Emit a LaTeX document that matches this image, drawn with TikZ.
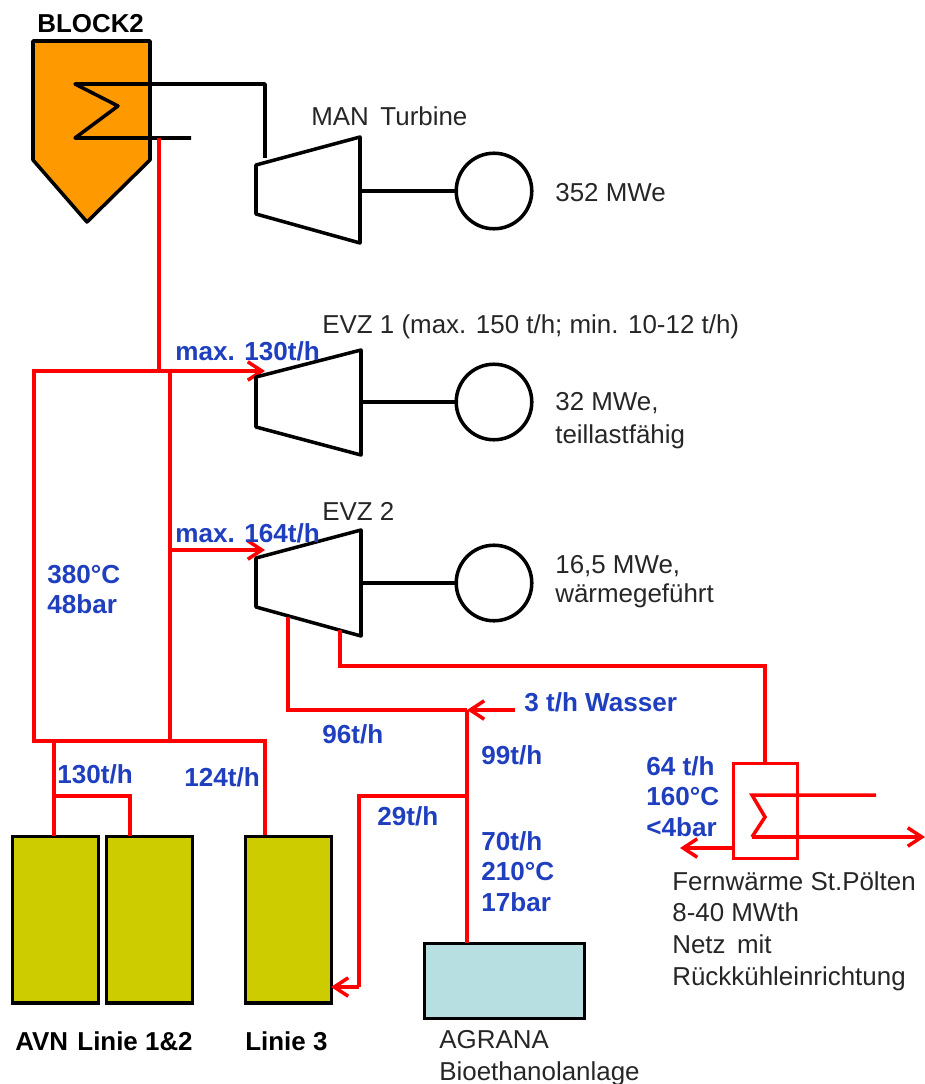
\documentclass[tikz,border=0pt]{standalone}
\usepackage{fontspec}
\setmainfont{Liberation Sans}
\usetikzlibrary{arrows.meta}
\definecolor{lblue}{HTML}{1F3FBF}
\definecolor{steam}{HTML}{FF0000}
\definecolor{boiler}{HTML}{FF9900}
\definecolor{olive}{HTML}{CCCC00}
\definecolor{pale}{HTML}{B7DEE0}
\tikzset{
  blk/.style={draw=black,line width=2pt,line join=round},
  stm/.style={draw=steam,line width=2pt,line join=miter},
  arr/.style={stm,-{Straight Barb[length=8pt,width=10.5pt,line width=2pt]}},
  gen/.style={circle,draw=black,line width=2pt,minimum size=43pt,inner sep=0pt,outer sep=0pt,fill=white},
  plantbox/.style={rectangle,draw=black,line width=2pt,inner sep=0pt,outer sep=0pt,anchor=north west},
  lbl/.style={font=\fontsize{14.75pt}{18pt}\selectfont,anchor=west,inner sep=0pt,align=left,text=black!85},
  bold/.style={lbl,font=\fontsize{14.75pt}{18pt}\selectfont\bfseries,text=black},
  val/.style={lbl,font=\fontsize{14.85pt}{17.4pt}\selectfont\bfseries,text=lblue},
}
\begin{document}
\begin{tikzpicture}[x=0.02cm,y=-0.02cm]
\useasboundingbox (0,0) rectangle (925,1084);
% coordinates
\foreach \n/\x/\y in {
 b1/33/41,b2/150/41,b3/150/160,b4/87/222,b5/33/160,
 c0/265/158,c1/265/84,c2/75/84,c3/118/106,c4/75/138,c5/191/138,
 r0/159/138,r1/159/371,
 hl/34/371,hm/170/371,hb/34/741,hc/170/741,hr/265/741,
 t1a/256/165,t1b/360/137,t1c/360/243,t1d/256/214,t1m/360/191,
 t2a/256/377,t2b/361/350,t2c/361/455,t2d/256/427,t2m/361/402,t2i/265/371,
 t3a/256/558,t3b/361/530,t3c/361/636,t3d/256/607,t3m/361/583,t3i/265/550,t3s/170/550,
 o1/288/617,o1b/288/710,j1/467/710,w0/515/710,
 o2/340/630,o2b/340/666,o2c/765/666,
 l1/54/741,l1m/54/796,l2m/130/796,
 j2/467/796,j3/359/796,j4/359/987,
 hxt/765/763,k0/876/795,k1/752/795,k2/765/817,k3/752/837,k4/925/837,
 e0/733/848,e1/680/848}
 \coordinate (\n) at (\x,\y);

% boiler
\draw[blk,fill=boiler] (b1)--(b2)--(b3)--(b4)--(b5)--cycle;
\draw[blk] (c0)--(c1)--(c2)--(c3)--(c4)--(c5);
% red steam lines
\draw[stm] (r0)--(r1);
\draw[stm] (hm)--(hl)--(hb)--(hr)--(265,836);
\draw[stm] (hm)--(hc);
\draw[arr] (hm)--(t2i);
\draw[arr] (t3s)--(t3i);
% turbines
\draw[blk,fill=white] (t1a)--(t1b)--(t1c)--(t1d)--cycle;
\draw[blk,fill=white] (t2a)--(t2b)--(t2c)--(t2d)--cycle;
\draw[blk,fill=white] (t3a)--(t3b)--(t3c)--(t3d)--cycle;
% generators
\node[gen] (g1) at (494,191) {};
\node[gen] (g2) at (494,402) {};
\node[gen] (g3) at (494,583) {};
\draw[blk] (t1m)--(g1);
\draw[blk] (t2m)--(g2);
\draw[blk] (t3m)--(g3);
% plant boxes
\node[plantbox,fill=olive,minimum width=48.9pt,minimum height=94.8pt] (a1) at (12.5,836.5) {};
\node[plantbox,fill=olive,minimum width=48.9pt,minimum height=94.8pt] (a2) at (106.5,836.5) {};
\node[plantbox,fill=olive,minimum width=48.9pt,minimum height=94.8pt] (a3) at (245.5,836.5) {};
\node[plantbox,fill=pale,minimum width=91pt,minimum height=42.7pt] (ag) at (424.5,943.5) {};
% branches
\draw[stm] (l1)--(54,836);
\draw[stm] (l1m)--(l2m)--(130,836);
\draw[stm] (o1)--(o1b)--(j1);
\draw[stm] (o2)--(o2b)--(o2c)--(hxt);
\draw[arr] (w0)--(j1);
\draw[stm] (j1)--(467,943);
\draw[stm] (j2)--(j3)--(j4);
\draw[arr] (j4)--(331,987);
% heat exchanger
\node[rectangle,draw=steam,line width=2pt,inner sep=0pt,outer sep=0pt,anchor=north west,minimum width=36.4pt,minimum height=54pt] (hx) at (733.5,763.5) {};
\draw[stm] (k0)--(k1)--(k2)--(k3);
\draw[arr] (k3)--(k4);
\draw[arr] (e0)--(e1);
% black labels
\node[bold] (tb) at (37,24) {BLOCK2};
\node[lbl] (t1) at (311,116) {MAN\, Turbine};
\node[lbl] (p1) at (555,193) {352 MWe};
\node[lbl] (t2) at (322,327) {EVZ 1 (max. 150 t/h; min. 10-12 t/h)};
\node[lbl,anchor=north west,font=\fontsize{14.75pt}{18.6pt}\selectfont] (p2) at (555,392) {32 MWe,\\teillastfähig};
\node[lbl] (t3) at (322,511) {EVZ 2};
\node[lbl,anchor=north west,font=\fontsize{14.75pt}{16.6pt}\selectfont] (p3) at (555,555) {16,5 MWe,\\wärmegeführt};
\node[lbl,anchor=north west,font=\fontsize{14.75pt}{18pt}\selectfont] (fw) at (672,871) {Fernwärme St.Pölten\\8-40 MWth\\Netz\, mit\\Rückkühleinrichtung};
\node[bold] (la) at (15,1041) {AVN\kern1.2pt{} Linie 1\&2};
\node[bold] (lb) at (245,1041) {Linie 3};
\node[lbl,anchor=north west] (lc) at (439,1030.5) {AGRANA\\Bioethanolanlage};
% blue labels
\node[val] (v1) at (175,351) {max. 130t/h};
\node[val] (v2) at (175,533) {max. 164t/h};
\node[val,anchor=north west] (v3) at (47,564.5) {380°C\\48bar};
\node[val] (v4) at (524,702) {3 t/h Wasser};
\node[val] (v5) at (322,734) {96t/h};
\node[val] (v6) at (481,755) {99t/h};
\node[val] (v7) at (57,774) {130t/h};
\node[val] (v8) at (184,777) {124t/h};
\node[val] (v9) at (377,816) {29t/h};
\node[val,anchor=north west] (v10) at (481,831) {70t/h\\210°C\\17bar};
\node[val,anchor=north west] (v11) at (646,756) {64 t/h\\160°C\\<4bar};
\end{tikzpicture}
\end{document}
